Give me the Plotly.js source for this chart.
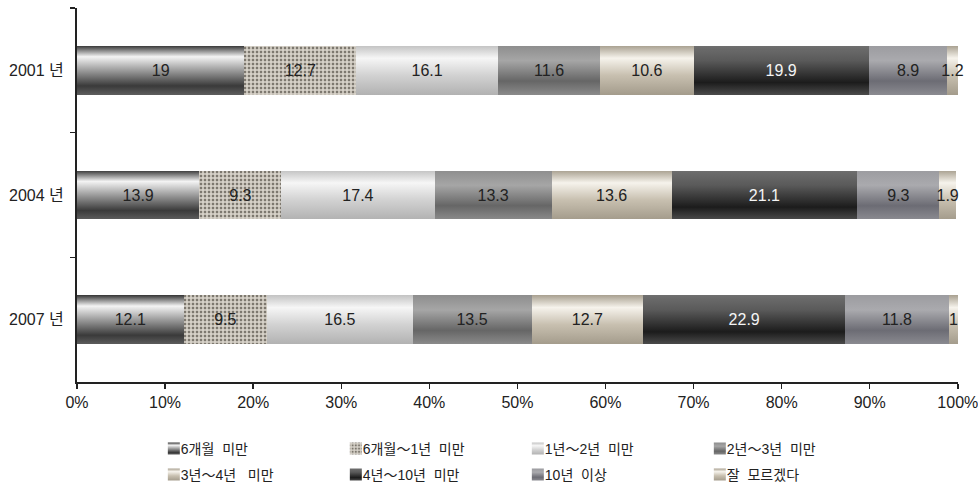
<!DOCTYPE html>
<html>
<head>
<meta charset="utf-8">
<script src="https://cdn.plot.ly/plotly-3.0.1.min.js"></script>
<style>
  html, body { margin: 0; padding: 0; background: #ffffff; }
  #chart { width: 978px; height: 489px; }
</style>
</head>
<body>
<div id="chart"></div>
<script>
// ---- data ----
const years = ["2001 년", "2004 년", "2007 년"];
const seriesNames = ["6개월  미만", "6개월～1년  미만", "1년～2년  미만", "2년～3년  미만",
                     "3년～4년   미만", "4년～10년  미만", "10년  이상", "잘  모르겠다"];
const s6m   = [19, 13.9, 12.1];
const s6m1y = [12.7, 9.3, 9.5];
const s1y2y = [16.1, 17.4, 16.5];
const s2y3y = [11.6, 13.3, 13.5];
const s3y4y = [10.6, 13.6, 12.7];
const s4y10y = [19.9, 21.1, 22.9];
const s10y  = [8.9, 9.3, 11.8];
const sDK   = [1.2, 1.9, 1];
const xTickVals = [0, 10, 20, 30, 40, 50, 60, 70, 80, 90, 100];

// ---- styles ----
const FONT = "'Liberation Sans', 'Noto Sans CJK KR', sans-serif";
const allSeries = [s6m, s6m1y, s1y2y, s2y3y, s3y4y, s4y10y, s10y, sDK];
const flatColors = ["#7a7a7a", "#d6d2c8", "#d8d8d8", "#8a8a8a", "#cbc4b6", "#3e3e3e", "#8e8e92", "#cbc4b6"];
const textColors = ["#222", "#222", "#222", "#222", "#222", "#f4f4f4", "#222", "#222"];
const legendOf = ["legend", "legend", "legend", "legend", "legend2", "legend2", "legend2", "legend2"];
const gradients = [
  [[0, "#3a3a3a"], [0.22, "#f4f4f4"], [0.5, "#9c9c9c"], [0.82, "#3a3a3a"], [1, "#5c5c5c"]],
  null,
  [[0, "#c4c4c4"], [0.25, "#f6f6f6"], [0.6, "#d2d2d2"], [1, "#b2b2b2"]],
  [[0, "#8e8e8e"], [0.3, "#a6a6a6"], [0.72, "#666666"], [1, "#8a8a8a"]],
  [[0, "#aaa292"], [0.25, "#f6f3ec"], [0.6, "#c8c0b0"], [1, "#a49c8c"]],
  [[0, "#6e6e6e"], [0.3, "#5a5a5a"], [0.75, "#1c1c1c"], [1, "#4a4a4a"]],
  [[0, "#9c9ca0"], [0.3, "#aaaaae"], [0.72, "#6c6c74"], [1, "#8a8a90"]],
  [[0, "#aaa292"], [0.25, "#f6f3ec"], [0.6, "#c8c0b0"], [1, "#a49c8c"]]
];

const traces = allSeries.map((vals, i) => {
  const t = {
    type: "bar",
    orientation: "h",
    name: seriesNames[i],
    legend: legendOf[i],
    y: years,
    x: vals,
    width: 0.39,
    text: vals.map(v => String(v)),
    textposition: "inside",
    insidetextanchor: "middle",
    textangle: 0,
    constraintext: "none",
    cliponaxis: false,
    textfont: { family: FONT, size: 16, color: textColors[i] },
    marker: { color: flatColors[i], line: { width: 0 } },
    hoverinfo: "x+name"
  };
  if (i === 1) {
    t.marker.pattern = { shape: "+", bgcolor: "#7d786f", fgcolor: "#dcd7cd", size: 4, solidity: 0.62, fillmode: "replace" };
  }
  return t;
});

const legendBase = {
  orientation: "h",
  traceorder: "normal",
  xref: "container",
  yref: "container",
  x: 0.144,
  xanchor: "left",
  yanchor: "middle",
  entrywidth: 137,
  entrywidthmode: "pixels",
  itemwidth: 30,
  font: { family: FONT, size: 14, color: "#222" },
  bgcolor: "rgba(0,0,0,0)"
};

const layout = {
  width: 978,
  height: 489,
  margin: { l: 77, r: 20, t: 8, b: 107 },
  paper_bgcolor: "#ffffff",
  plot_bgcolor: "#ffffff",
  barmode: "stack",
  font: { family: FONT, size: 16, color: "#222" },
  uniformtext: { mode: "show", minsize: 16 },
  showlegend: true,
  xaxis: {
    range: [0, 100.02],
    tickvals: xTickVals,
    ticktext: xTickVals.map(v => v + "%"),
    showgrid: false,
    zeroline: false,
    showline: true,
    linecolor: "#222",
    linewidth: 2,
    ticks: "outside",
    ticklen: 5,
    tickwidth: 1.5,
    tickcolor: "#222",
    ticklabeloverflow: "allow",
    automargin: false,
    tickfont: { family: FONT, size: 16, color: "#222" },
    fixedrange: true
  },
  yaxis: {
    type: "category",
    categoryorder: "array",
    categoryarray: years,
    autorange: false,
    range: [2.5, -0.5],
    tickson: "boundaries",
    showgrid: false,
    zeroline: false,
    showline: true,
    linecolor: "#222",
    linewidth: 2,
    ticks: "outside",
    ticklen: 5,
    tickwidth: 1.5,
    tickcolor: "#222",
    ticklabelstandoff: 8,
    automargin: false,
    tickfont: { family: FONT, size: 16, color: "#222" },
    fixedrange: true
  },
  legend: Object.assign({}, legendBase, { y: (489 - 449) / 489 }),
  legend2: Object.assign({}, legendBase, { y: (489 - 475) / 489 })
};

const gd = document.getElementById("chart");
Plotly.newPlot(gd, traces, layout, { displayModeBar: false, staticPlot: true }).then(() => {
  const svg = gd.querySelector(".main-svg");
  let defs = svg.querySelector("defs");
  if (!defs) {
    defs = document.createElementNS("http://www.w3.org/2000/svg", "defs");
    svg.insertBefore(defs, svg.firstChild);
  }
  gradients.forEach((g, i) => {
    if (!g) return;
    const lg = document.createElementNS("http://www.w3.org/2000/svg", "linearGradient");
    lg.setAttribute("id", "barGrad" + i);
    lg.setAttribute("x1", "0"); lg.setAttribute("y1", "0");
    lg.setAttribute("x2", "0"); lg.setAttribute("y2", "1");
    g.forEach(([off, col]) => {
      const st = document.createElementNS("http://www.w3.org/2000/svg", "stop");
      st.setAttribute("offset", off);
      st.setAttribute("stop-color", col);
      lg.appendChild(st);
    });
    defs.appendChild(lg);
  });
  const barTraces = gd.querySelectorAll(".barlayer .trace.bars");
  barTraces.forEach((tr, i) => {
    if (!gradients[i]) return;
    tr.querySelectorAll(".point path").forEach(p => p.style.setProperty("fill", "url(#barGrad" + i + ")"));
  });
  const legTraces = gd.querySelectorAll(".legend .traces, .legend2 .traces");
  legTraces.forEach((tr, k) => {
    let i = k;
    const d = tr.__data__;
    if (d && d[0] && d[0].trace && typeof d[0].trace.index === "number") i = d[0].trace.index;
    const lp = tr.querySelector(".legendpoints");
    if (lp) {
      const prev = lp.getAttribute("transform") || "";
      lp.setAttribute("transform", prev + " translate(13,0)");
    }
    if (!gradients[i]) return;
    tr.querySelectorAll(".legendpoints path").forEach(p => p.style.setProperty("fill", "url(#barGrad" + i + ")"));
  });
});
</script>
</body>
</html>
